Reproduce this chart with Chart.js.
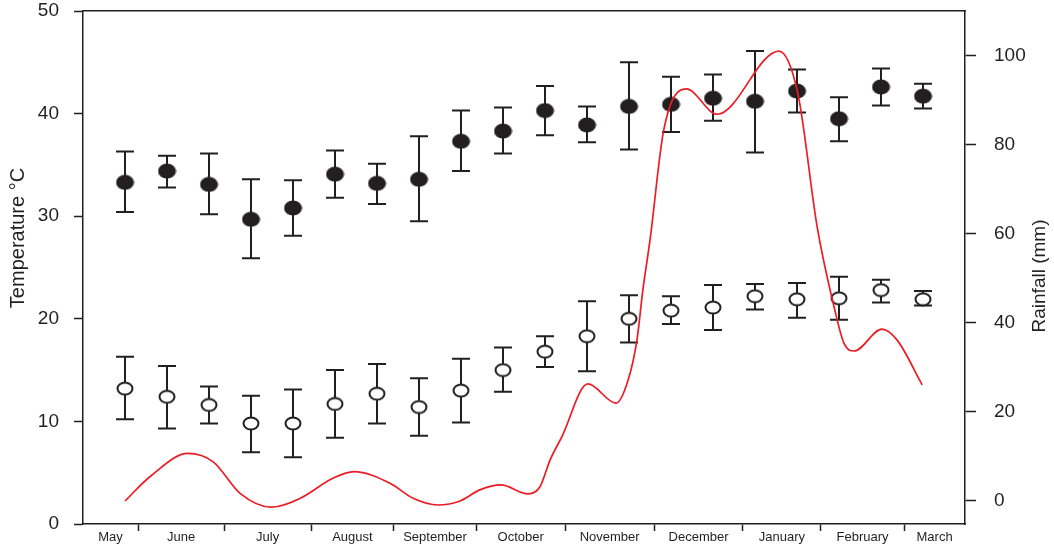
<!DOCTYPE html>
<html>
<head>
<meta charset="utf-8">
<script src="https://cdn.jsdelivr.net/npm/chart.js@4.4.1/dist/chart.umd.min.js"></script>
<style>
  html, body { margin: 0; padding: 0; background: #ffffff; }
  #wrap { width: 1054px; height: 548px; }
</style>
</head>
<body>
<div id="wrap"><canvas id="c" width="1054" height="548"></canvas></div>
<script>
// Fortnightly sampling positions run 0..19 along the x axis.
const maxTemp  = [33.3, 34.4, 33.1, 29.7, 30.8, 34.1, 33.2, 33.6, 37.3, 38.3, 40.3, 38.9, 40.7, 40.9, 41.5, 41.2, 42.2, 39.5, 42.6, 41.7];
const maxLow   = [30.4, 32.8, 30.2, 25.9, 28.1, 31.8, 31.2, 29.5, 34.4, 36.1, 37.9, 37.2, 36.5, 38.2, 39.3, 36.2, 40.1, 37.3, 40.8, 40.5];
const maxHigh  = [36.3, 35.9, 36.1, 33.6, 33.5, 36.4, 35.1, 37.8, 40.3, 40.6, 42.7, 40.7, 45.0, 43.6, 43.8, 46.1, 44.3, 41.6, 44.4, 42.9];

const minTemp  = [13.2, 12.4, 11.6, 9.8, 9.8, 11.7, 12.7, 11.4, 13.0, 15.0, 16.8, 18.3, 20.0, 20.8, 21.1, 22.2, 21.9, 22.0, 22.8, 21.9];
const minLow   = [10.2, 9.3, 9.8, 7.0, 6.5, 8.4, 9.8, 8.6, 9.9, 12.9, 15.3, 14.9, 17.7, 19.5, 18.9, 20.9, 20.1, 19.9, 21.6, 21.3];
const minHigh  = [16.3, 15.4, 13.4, 12.5, 13.1, 15.0, 15.6, 14.2, 16.1, 17.2, 18.3, 21.7, 22.3, 22.2, 23.3, 23.4, 23.5, 24.1, 23.8, 22.7];

// Rainfall curve (mm), positions on the same x axis
const rainX  = [0.00, 0.60, 1.50, 2.10, 2.74, 3.48, 4.17, 4.95, 5.45, 6.31, 6.86, 7.45, 7.98, 8.45, 8.95, 9.60, 9.88, 10.12, 10.40, 11.02, 11.69, 11.98, 12.19, 12.33, 12.50, 12.83, 13.36, 14.10, 15.57, 16.02, 16.48, 16.88, 17.12, 17.36, 18.02, 18.38, 18.98];
const rainMm = [0.0, 5.5, 10.7, 8.8, 1.7, -1.4, 0.6, 5.1, 6.6, 4.0, 0.6, -0.9, 0.0, 2.5, 3.6, 1.6, 3.2, 9.2, 14.4, 26.3, 22.0, 27.2, 36.2, 47.4, 58.6, 83.5, 92.6, 86.9, 101.1, 91.6, 61.6, 43.7, 35.4, 33.7, 38.6, 36.2, 26.1];

// Month names and the boundaries between months on the x axis
const monthNames = ['May', 'June', 'July', 'August', 'September', 'October', 'November', 'December', 'January', 'February', 'March'];
const monthBounds = [0.31, 2.36, 4.43, 6.40, 8.36, 10.48, 12.60, 14.71, 16.57, 18.55];
const xRange = [-1, 20];

const tempTicks = [0, 10, 20, 30, 40, 50];
const rainTicks = [0, 20, 40, 60, 80, 100];
const axisTitles = { temp: 'Temperature °C', rain: 'Rainfall (mm)' };

const INK = '#231f20';
const RED = '#ed1c24';
const FONT = "'Liberation Sans', Arial, Helvetica, sans-serif";

// Bottom axis ticks: marks at month boundaries, names centred between them
const edges = [xRange[0], ...monthBounds, xRange[1]];
const monthTicks = [];
monthBounds.forEach(b => monthTicks.push({ value: b, label: '', mark: true }));
monthNames.forEach((m, i) => monthTicks.push({ value: (edges[i] + edges[i + 1]) / 2, label: m, mark: false }));
monthTicks.sort((a, b) => a.value - b.value);

function ellipseSprite(w, h, fill, stroke, lw) {
  const c = document.createElement('canvas');
  c.width = w; c.height = h;
  const g = c.getContext('2d');
  g.beginPath();
  g.ellipse(w / 2, h / 2, w / 2 - lw / 2 - 0.5, h / 2 - lw / 2 - 0.5, 0, 0, Math.PI * 2);
  g.fillStyle = fill;
  g.fill();
  if (stroke) { g.lineWidth = lw; g.strokeStyle = stroke; g.stroke(); }
  return c;
}
const filledDot = ellipseSprite(19, 16, INK, null, 0);
const openDot = ellipseSprite(18, 15, '#ffffff', INK, 2);

// Vertical error bars with caps, drawn beneath the markers
const errorBars = {
  id: 'errorBars',
  beforeDatasetsDraw(chart) {
    const ctx = chart.ctx;
    chart.data.datasets.forEach((ds, di) => {
      if (!ds.errLow) return;
      const meta = chart.getDatasetMeta(di);
      const xs = chart.scales[meta.xAxisID];
      const ys = chart.scales[meta.yAxisID];
      ctx.save();
      ctx.strokeStyle = INK;
      ctx.lineWidth = 2;
      ds.data.forEach((p, i) => {
        const x = xs.getPixelForValue(p.x);
        const yl = ys.getPixelForValue(ds.errLow[i]);
        const yh = ys.getPixelForValue(ds.errHigh[i]);
        ctx.beginPath();
        ctx.moveTo(x, yl); ctx.lineTo(x, yh);
        ctx.moveTo(x - 9, yl); ctx.lineTo(x + 9, yl);
        ctx.moveTo(x - 9, yh); ctx.lineTo(x + 9, yh);
        ctx.stroke();
      });
      ctx.restore();
    });
  }
};

// Both axis titles read bottom-to-top
const sideTitles = {
  id: 'sideTitles',
  afterDraw(chart) {
    const ctx = chart.ctx;
    const draw = (text, x, y, size) => {
      ctx.save();
      ctx.translate(x, y);
      ctx.rotate(-Math.PI / 2);
      ctx.font = size + 'px ' + FONT;
      ctx.fillStyle = INK;
      ctx.textAlign = 'center';
      ctx.textBaseline = 'middle';
      ctx.fillText(text, 0, 0);
      ctx.restore();
    };
    draw(axisTitles.temp, 18, 238, 20);
    draw(axisTitles.rain, 1040, 276, 19);
  }
};

const noEdgePadding = s => { s.paddingTop = 0; s.paddingBottom = 0; s.paddingLeft = 0; s.paddingRight = 0; };

new Chart(document.getElementById('c'), {
  type: 'scatter',
  data: {
    datasets: [
      {
        label: 'Rainfall',
        data: rainX.map((x, i) => ({ x, y: rainMm[i] })),
        xAxisID: 'x', yAxisID: 'y2',
        showLine: true,
        borderColor: RED,
        borderWidth: 1.7,
        pointRadius: 0,
        cubicInterpolationMode: 'monotone',
        fill: false
      },
      {
        label: 'Maximum',
        data: maxTemp.map((v, i) => ({ x: i, y: v })),
        errLow: maxLow, errHigh: maxHigh,
        xAxisID: 'x', yAxisID: 'y',
        pointStyle: filledDot,
        pointRadius: 8
      },
      {
        label: 'Minimum',
        data: minTemp.map((v, i) => ({ x: i, y: v })),
        errLow: minLow, errHigh: minHigh,
        xAxisID: 'x', yAxisID: 'y',
        pointStyle: openDot,
        pointRadius: 8
      }
    ]
  },
  options: {
    responsive: false,
    animation: false,
    devicePixelRatio: 1,
    layout: { padding: { top: 11, left: 0, right: 0, bottom: 0 } },
    plugins: { legend: { display: false }, tooltip: { enabled: false } },
    scales: {
      x: {
        type: 'linear', position: 'bottom',
        min: xRange[0], max: xRange[1],
        afterBuildTicks: s => { s.ticks = monthTicks.map(t => ({ value: t.value })); },
        afterFit: s => { s.height = 24; noEdgePadding(s); },
        ticks: {
          autoSkip: false, maxRotation: 0, minRotation: 0,
          padding: -1,
          color: INK,
          font: { family: FONT, size: 13 },
          callback: (v, i) => monthTicks[i].label
        },
        grid: {
          drawOnChartArea: false, drawTicks: true, tickLength: 7, tickWidth: 1.5,
          tickColor: c => (monthTicks[c.index] && monthTicks[c.index].mark) ? INK : 'rgba(0,0,0,0)'
        },
        border: { display: true, color: INK, width: 1.5 }
      },
      xTop: {
        type: 'linear', position: 'top',
        min: xRange[0], max: xRange[1],
        afterFit: s => { s.height = 0; noEdgePadding(s); },
        ticks: { display: false },
        grid: { display: false },
        border: { display: true, color: INK, width: 1.5 }
      },
      y: {
        type: 'linear', position: 'left',
        min: 0, max: 50,
        afterBuildTicks: s => { s.ticks = tempTicks.map(v => ({ value: v })); },
        afterFit: s => { s.width = 83; noEdgePadding(s); },
        ticks: { color: INK, padding: 15, font: { family: FONT, size: 19 } },
        grid: { drawOnChartArea: false, tickLength: 9, tickWidth: 1.5, tickColor: INK },
        border: { display: true, color: INK, width: 1.5 }
      },
      y2: {
        type: 'linear', position: 'right',
        min: -5.17, max: 110.1,
        afterBuildTicks: s => { s.ticks = rainTicks.map(v => ({ value: v })); },
        afterFit: s => { s.width = 89; noEdgePadding(s); },
        ticks: { color: INK, padding: 18, font: { family: FONT, size: 19 } },
        grid: { drawOnChartArea: false, tickLength: 11, tickWidth: 1.5, tickColor: INK },
        border: { display: true, color: INK, width: 1.5 }
      }
    }
  },
  plugins: [errorBars, sideTitles]
});
</script>
</body>
</html>
